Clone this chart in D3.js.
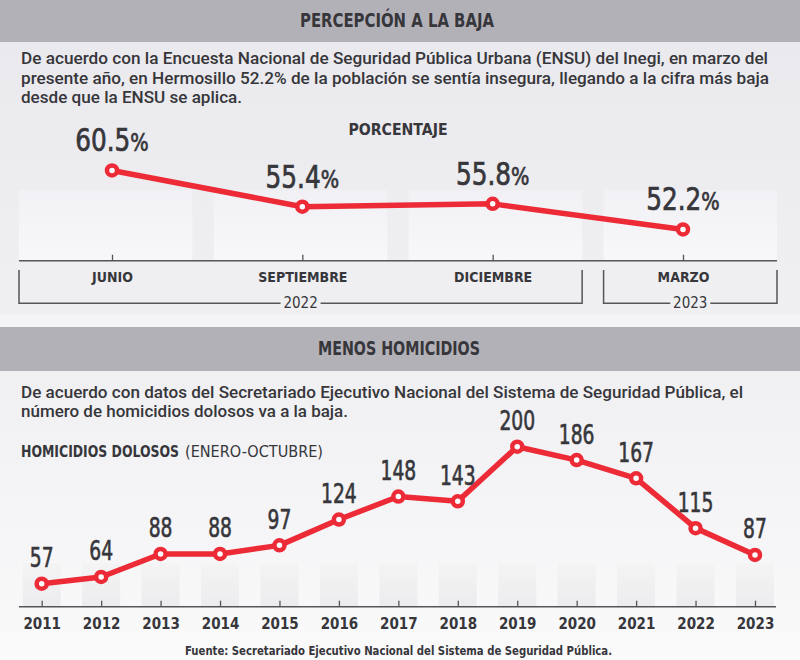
<!DOCTYPE html>
<html>
<head>
<meta charset="utf-8">
<script src="https://cdn.jsdelivr.net/npm/d3@7"></script>
<style>
  body { margin: 0; background: #fff; }
  svg { display: block; }
</style>
</head>
<body>
<svg id="chart" width="800" height="660"></svg>
<script>
const periodos = ["JUNIO", "SEPTIEMBRE", "DICIEMBRE", "MARZO"];
const periodoAnio = ["2022", "2022", "2022", "2023"];
const percepcion = [60.5, 55.4, 55.8, 52.2];

const anios = ["2011", "2012", "2013", "2014", "2015", "2016", "2017", "2018", "2019", "2020", "2021", "2022", "2023"];
const homicidios = [57, 64, 88, 88, 97, 124, 148, 143, 200, 186, 167, 115, 87];

const texto1 = [
  "De acuerdo con la Encuesta Nacional de Seguridad Pública Urbana (ENSU) del Inegi, en marzo del",
  "presente año, en Hermosillo 52.2% de la población se sentía insegura, llegando a la cifra más baja",
  "desde que la ENSU se aplica.",
];
const texto2 = [
  "De acuerdo con datos del Secretariado Ejecutivo Nacional del Sistema de Seguridad Pública, el",
  "número de homicidios dolosos va a la baja.",
];

const narrow = "'Liberation Sans Narrow', 'DejaVu Sans Condensed', sans-serif";
const sans = "Roboto, 'Noto Sans', sans-serif";
const red = "#ec2b37";
const ink = "#36363b";

const svg = d3.select("#chart");
const width = 800;

// fondos
const defs = svg.append("defs");
const grad = (id, c0, c1) => {
  const g = defs.append("linearGradient").attr("id", id)
    .attr("x1", 0).attr("x2", 0).attr("y1", 0).attr("y2", 1);
  g.append("stop").attr("offset", "0%").attr("stop-color", c0);
  g.append("stop").attr("offset", "100%").attr("stop-color", c1);
};
grad("bg1", "#eae9ed", "#f0eff2");
grad("bg2", "#f0eff2", "#fafafb");
grad("col1", "#f1f0f4", "#f8f7fa");
grad("col2", "#f4f4f5", "#ececee");

svg.append("rect").attr("width", width).attr("height", 660).attr("fill", "#f7f7f8");
svg.append("rect").attr("y", 42).attr("width", width).attr("height", 273).attr("fill", "url(#bg1)");
svg.append("rect").attr("y", 315).attr("width", width).attr("height", 12).attr("fill", "#f4f3f5");
svg.append("rect").attr("y", 371).attr("width", width).attr("height", 289).attr("fill", "url(#bg2)");
svg.append("rect").attr("y", 0).attr("width", width).attr("height", 42).attr("fill", "#b3b1b8");
svg.append("rect").attr("y", 327).attr("width", width).attr("height", 44).attr("fill", "#b3b1b8");

// titulos
svg.append("text")
  .attr("x", 397).attr("y", 27)
  .attr("text-anchor", "middle")
  .attr("font-family", narrow).attr("font-weight", "bold").attr("font-size", 19)
  .attr("fill", ink)
  .attr("textLength", 194).attr("lengthAdjust", "spacingAndGlyphs")
  .text("PERCEPCIÓN A LA BAJA");

svg.append("text")
  .attr("x", 399).attr("y", 355)
  .attr("text-anchor", "middle")
  .attr("font-family", narrow).attr("font-weight", "bold").attr("font-size", 19)
  .attr("fill", ink)
  .attr("textLength", 162).attr("lengthAdjust", "spacingAndGlyphs")
  .text("MENOS HOMICIDIOS");

const parrafo = (lineas, y0, anchos) => {
  svg.append("g")
    .selectAll("text")
    .data(lineas)
    .join("text")
    .attr("x", 21)
    .attr("y", (d, i) => y0 + i * 19.6)
    .attr("font-family", sans).attr("font-weight", 500).attr("font-size", 16)
    .attr("fill", ink)
    .attr("textLength", (d, i) => anchos[i])
    .attr("lengthAdjust", "spacingAndGlyphs")
    .text((d) => d);
};
parrafo(texto1, 64, [747, 748, 221]);
parrafo(texto2, 397.5, [722, 327]);

// ---------- grafica 1: percepcion ----------
const xTop = d3.scalePoint().domain(periodos).range([112, 683]);
const bandTop = d3.scaleBand().domain(periodos).range([19, 777]).paddingInner(0.11);
const yTop = d3.scaleLinear().domain([50, 62]).range([245.1, 159.8]);
const axisY1 = 260.7;

svg.append("g")
  .selectAll("rect")
  .data(periodos)
  .join("rect")
  .attr("x", (d) => bandTop(d))
  .attr("y", 190)
  .attr("width", bandTop.bandwidth())
  .attr("height", axisY1 - 190)
  .attr("fill", "url(#col1)");

svg.append("text")
  .attr("x", 398).attr("y", 135)
  .attr("text-anchor", "middle")
  .attr("font-family", narrow).attr("font-weight", "bold").attr("font-size", 16)
  .attr("fill", ink)
  .attr("textLength", 99).attr("lengthAdjust", "spacingAndGlyphs")
  .text("PORCENTAJE");

svg.append("line")
  .attr("x1", bandTop.range()[0]).attr("x2", bandTop.range()[1])
  .attr("y1", axisY1).attr("y2", axisY1)
  .attr("stroke", "#55555a").attr("stroke-width", 1.5);

svg.append("g")
  .attr("transform", `translate(0,${axisY1})`)
  .call(d3.axisBottom(xTop).tickSize(-6).tickPadding(11.5).tickSizeOuter(0))
  .call((g) => g.select(".domain").remove())
  .call((g) => g.selectAll(".tick line").attr("stroke", "#55555a").attr("stroke-width", 1.3))
  .call((g) =>
    g.selectAll(".tick text")
      .attr("font-family", narrow).attr("font-weight", "bold").attr("font-size", 14)
      .attr("fill", ink)
  );

// llaves de año
const grupos = d3.groups(periodos.map((p, i) => ({ p, anio: periodoAnio[i] })), (d) => d.anio);
const llaves = svg.append("g").selectAll("g").data(grupos).join("g");
llaves.each(function ([anio, items]) {
  const x0 = bandTop(items[0].p);
  const x1 = bandTop(items[items.length - 1].p) + bandTop.bandwidth();
  const mid = (x0 + x1) / 2;
  const g = d3.select(this);
  g.append("path")
    .attr("d", `M${x0},270V303.3H${mid - 20}M${mid + 20},303.3H${x1}V270`)
    .attr("fill", "none").attr("stroke", "#55555a").attr("stroke-width", 1.5);
  g.append("text")
    .attr("x", mid).attr("y", 307.5)
    .attr("text-anchor", "middle")
    .attr("font-family", narrow).attr("font-size", 15)
    .attr("fill", ink)
    .text(anio);
});

const dataTop = periodos.map((p, i) => ({ p, v: percepcion[i] }));

svg.append("path")
  .datum(dataTop)
  .attr("fill", "none")
  .attr("stroke", red).attr("stroke-width", 5.5)
  .attr("stroke-linejoin", "round")
  .attr("d", d3.line().x((d) => xTop(d.p)).y((d) => yTop(d.v)));

svg.append("g")
  .selectAll("circle")
  .data(dataTop)
  .join("circle")
  .attr("cx", (d) => xTop(d.p))
  .attr("cy", (d) => yTop(d.v))
  .attr("r", 5)
  .attr("fill", "#fff")
  .attr("stroke", red).attr("stroke-width", 4.5);

const etqTop = svg.append("g")
  .selectAll("text")
  .data(dataTop)
  .join("text")
  .attr("transform", (d) => `translate(${xTop(d.p)},${yTop(d.v) - 19}) scale(0.86,1)`)
  .attr("text-anchor", "middle")
  .attr("font-family", narrow).attr("font-size", 32)
  .attr("fill", ink)
  .attr("stroke", ink).attr("stroke-width", 0.7);
etqTop.append("tspan").text((d) => d.v.toFixed(1));
etqTop.append("tspan").attr("font-size", 25).text("%");

// ---------- grafica 2: homicidios ----------
const xBot = d3.scalePoint().domain(anios).range([41.7, 755]);
const bandBot = d3.scaleBand().domain(anios).range([12, 784.7]).paddingInner(0.36).paddingOuter(0.18);
const yBot = d3.scaleLinear().domain([0, 200]).range([638.3, 446.7]);
const axisY2 = 606.7;

svg.append("text")
  .attr("x", 21).attr("y", 456.7)
  .attr("font-family", narrow).attr("font-weight", "bold").attr("font-size", 15)
  .attr("fill", ink)
  .attr("textLength", 158).attr("lengthAdjust", "spacingAndGlyphs")
  .text("HOMICIDIOS DOLOSOS");

svg.append("text")
  .attr("x", 185).attr("y", 456.7)
  .attr("font-family", narrow).attr("font-size", 15)
  .attr("fill", ink)
  .attr("textLength", 138).attr("lengthAdjust", "spacingAndGlyphs")
  .text("(ENERO-OCTUBRE)");

svg.append("g")
  .selectAll("rect")
  .data(anios)
  .join("rect")
  .attr("x", (d) => bandBot(d))
  .attr("y", 563)
  .attr("width", bandBot.bandwidth())
  .attr("height", axisY2 - 563)
  .attr("fill", "url(#col2)");

svg.append("line")
  .attr("x1", 19).attr("x2", 776)
  .attr("y1", axisY2).attr("y2", axisY2)
  .attr("stroke", "#55555a").attr("stroke-width", 1.5);

svg.append("g")
  .attr("transform", `translate(0,${axisY2})`)
  .call(d3.axisBottom(xBot).tickSize(-6).tickPadding(11.6).tickSizeOuter(0))
  .call((g) => g.select(".domain").remove())
  .call((g) => g.selectAll(".tick line").attr("stroke", "#55555a").attr("stroke-width", 1.3))
  .call((g) =>
    g.selectAll(".tick text")
      .attr("font-family", narrow).attr("font-weight", "bold").attr("font-size", 15)
      .attr("fill", ink)
  );

const dataBot = anios.map((a, i) => ({ a, v: homicidios[i] }));

svg.append("path")
  .datum(dataBot)
  .attr("fill", "none")
  .attr("stroke", red).attr("stroke-width", 5.5)
  .attr("stroke-linejoin", "round")
  .attr("d", d3.line().x((d) => xBot(d.a)).y((d) => yBot(d.v)));

svg.append("g")
  .selectAll("circle")
  .data(dataBot)
  .join("circle")
  .attr("cx", (d) => xBot(d.a))
  .attr("cy", (d) => yBot(d.v))
  .attr("r", 5)
  .attr("fill", "#fff")
  .attr("stroke", red).attr("stroke-width", 4.5);

svg.append("g")
  .selectAll("text")
  .data(dataBot)
  .join("text")
  .attr("transform", (d) => `translate(${xBot(d.a)},${yBot(d.v) - 16.5}) scale(0.8,1)`)
  .attr("text-anchor", "middle")
  .attr("font-family", narrow).attr("font-size", 26)
  .attr("fill", ink)
  .attr("stroke", ink).attr("stroke-width", 0.6)
  .text((d) => d.v);

svg.append("text")
  .attr("x", 398.5).attr("y", 655)
  .attr("text-anchor", "middle")
  .attr("font-family", narrow).attr("font-weight", "bold").attr("font-size", 13)
  .attr("fill", ink)
  .attr("textLength", 427).attr("lengthAdjust", "spacingAndGlyphs")
  .text("Fuente: Secretariado Ejecutivo Nacional del Sistema de Seguridad Pública.");
</script>
</body>
</html>
